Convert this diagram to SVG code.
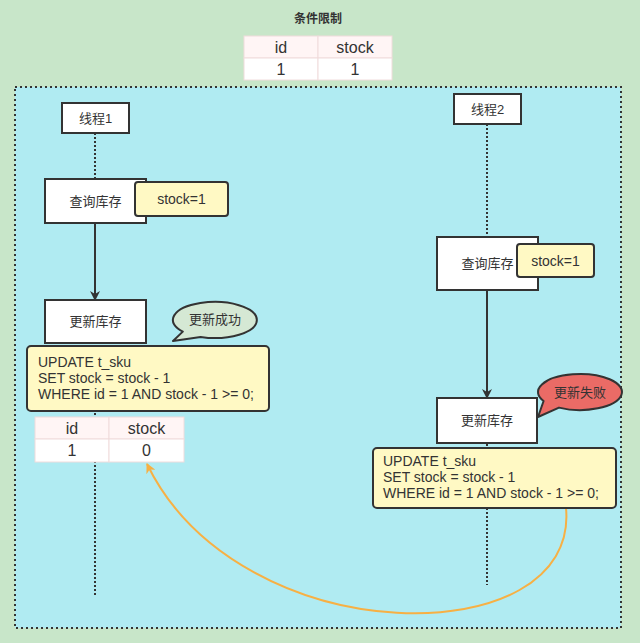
<svg xmlns="http://www.w3.org/2000/svg" width="640" height="643" viewBox="0 0 640 643">
<style>
text{font-family:"Liberation Sans","Noto Sans CJK SC",sans-serif;fill:#333;}
.lbl{font-size:13px;text-anchor:middle;dominant-baseline:central;}
.num{font-size:14px;text-anchor:middle;dominant-baseline:central;}
.tt{font-size:16px;text-anchor:middle;dominant-baseline:central;}
.sql{font-size:14px;}
.box{fill:#fff;stroke:#333;stroke-width:2;}
.note{fill:#fff9c4;stroke:#333;stroke-width:2;}
.life{stroke:#333;stroke-width:2;stroke-dasharray:2 2;fill:none;}
.th{fill:#fff5f5;stroke:#f0dcdc;stroke-width:1;}
.td{fill:#fff;stroke:#f0dcdc;stroke-width:1;}
</style>
<defs>
<marker id="ah" viewBox="0 0 10 10" refX="9" refY="5" markerWidth="10" markerHeight="10" markerUnits="userSpaceOnUse" orient="auto">
<path d="M0,0 L10,5 L0,10 L3,5 Z" fill="#333"/>
</marker>
<marker id="ao" viewBox="0 0 10 10" refX="9" refY="5" markerWidth="10" markerHeight="10" markerUnits="userSpaceOnUse" orient="auto">
<path d="M0,0 L10,5 L0,10 L3,5 Z" fill="#f7b044"/>
</marker>
</defs>
<rect x="0" y="0" width="640" height="643" fill="#c8e6c9"/>
<g id="frame">
<rect x="15" y="87" width="606" height="541" fill="#b0ebf2" stroke="#333" stroke-width="2" stroke-dasharray="2 3"/>
</g>
<g id="title">
<text x="318" y="19" style="font-size:12px;font-weight:bold;text-anchor:middle;dominant-baseline:central;">条件限制</text>
</g>
<g id="table-top">
<rect class="th" x="244" y="36" width="74" height="22"/>
<rect class="th" x="318" y="36" width="74" height="22"/>
<rect class="td" x="244" y="58" width="74" height="22"/>
<rect class="td" x="318" y="58" width="74" height="22"/>
<text class="tt" x="281" y="47">id</text>
<text class="tt" x="355" y="47">stock</text>
<text class="tt" x="281" y="69">1</text>
<text class="tt" x="355" y="69">1</text>
</g>
<g id="connectors">
<line class="life" x1="95" y1="133" x2="95" y2="595"/>
<line class="life" x1="487" y1="124" x2="487" y2="585"/>
<line x1="95" y1="223" x2="95" y2="300" stroke="#333" stroke-width="2" marker-end="url(#ah)"/>
<line x1="487" y1="290" x2="487" y2="398" stroke="#333" stroke-width="2" marker-end="url(#ah)"/>
<path d="M566,508 C580,655 240,655 147,464" fill="none" stroke="#f7b044" stroke-width="2" marker-end="url(#ao)"/>
</g>
<g id="thread1">
<rect class="box" x="62" y="103" width="67" height="30"/>
<text class="lbl" x="95.5" y="118">线程1</text>
</g>
<g id="query1">
<rect class="box" x="45" y="179" width="101" height="44"/>
<text class="lbl" x="95.5" y="201">查询库存</text>
</g>
<g id="stock1">
<rect class="note" x="135" y="182" width="93" height="34" rx="3"/>
<text class="num" x="181.5" y="199">stock=1</text>
</g>
<g id="update1">
<rect class="box" x="45" y="300" width="101" height="43"/>
<text class="lbl" x="95.5" y="321.5">更新库存</text>
</g>
<g id="success">
<path d="M200.6,336.9 A42,18 0 1 0 182.8,331.6 L173,341 Z" fill="#d5e8d4" stroke="#333" stroke-width="2" stroke-linejoin="round"/>
<text class="lbl" x="215" y="319">更新成功</text>
</g>
<g id="sql1">
<rect class="note" x="27" y="346" width="242" height="65" rx="4"/>
<text class="sql" x="38" y="367">UPDATE t_sku</text>
<text class="sql" x="38" y="383">SET stock = stock - 1</text>
<text class="sql" x="38" y="399">WHERE id = 1 AND stock - 1 &gt;= 0;</text>
</g>
<g id="table1">
<rect class="th" x="35" y="417" width="74" height="22"/>
<rect class="th" x="109" y="417" width="75" height="22"/>
<rect class="td" x="35" y="439" width="74" height="23"/>
<rect class="td" x="109" y="439" width="75" height="23"/>
<text class="tt" x="72" y="428">id</text>
<text class="tt" x="146.5" y="428">stock</text>
<text class="tt" x="72" y="450.5">1</text>
<text class="tt" x="146.5" y="450.5">0</text>
</g>
<g id="thread2">
<rect class="box" x="454" y="94" width="67" height="30"/>
<text class="lbl" x="487.5" y="109">线程2</text>
</g>
<g id="query2">
<rect class="box" x="437" y="237" width="101" height="53"/>
<text class="lbl" x="487.5" y="263.5">查询库存</text>
</g>
<g id="stock2">
<rect class="note" x="517" y="244" width="77" height="33" rx="3"/>
<text class="num" x="555.5" y="260.5">stock=1</text>
</g>
<g id="update2">
<rect class="box" x="437" y="398" width="100" height="45"/>
<text class="lbl" x="487" y="420.5">更新库存</text>
</g>
<g id="fail">
<path d="M559,407.6 A42,18 0 1 0 543.6,401 L538,417 Z" fill="#ea6b66" stroke="#333" stroke-width="2" stroke-linejoin="round"/>
<text class="lbl" x="580" y="392">更新失败</text>
</g>
<g id="sql2">
<rect class="note" x="373" y="448" width="243" height="60" rx="4"/>
<text class="sql" x="383" y="466">UPDATE t_sku</text>
<text class="sql" x="383" y="482">SET stock = stock - 1</text>
<text class="sql" x="383" y="498">WHERE id = 1 AND stock - 1 &gt;= 0;</text>
</g>
</svg>
